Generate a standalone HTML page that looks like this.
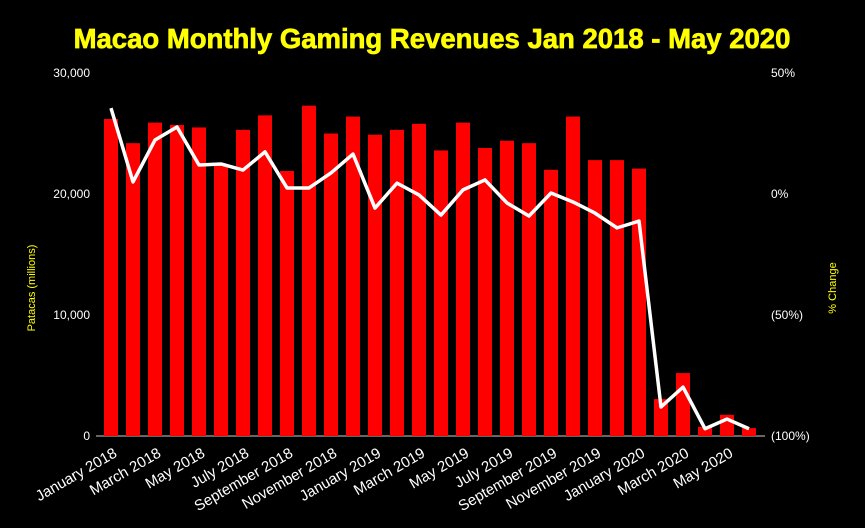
<!DOCTYPE html>
<html><head><meta charset="utf-8"><style>
body{margin:0;background:#000;}
svg{display:block;font-family:"Liberation Sans",Arial,sans-serif;}
</style></head><body>
<svg id="chart" width="865" height="528">
<rect width="865" height="528" fill="#000"/>
<text x="432" y="48" text-anchor="middle" fill="#ffff00" font-weight="bold" font-size="27.5" stroke="#ffff00" stroke-width="0.7">Macao Monthly Gaming Revenues Jan 2018 - May 2020</text>
<text transform="translate(35,288) rotate(-90)" text-anchor="middle" fill="#ffff00" font-size="11">Patacas (millions)</text>
<text transform="translate(836,288) rotate(-90)" text-anchor="middle" fill="#ffff00" font-size="11">% Change</text>
<g id="axes"></g><g id="bars"></g><g id="line"></g><g id="xlabels"></g>
</svg>
<script>
const months=["January 2018","February 2018","March 2018","April 2018","May 2018","June 2018","July 2018","August 2018","September 2018","October 2018","November 2018","December 2018","January 2019","February 2019","March 2019","April 2019","May 2019","June 2019","July 2019","August 2019","September 2019","October 2019","November 2019","December 2019","January 2020","February 2020","March 2020","April 2020","May 2020","June 2020"];
const revenue=[26.2,24.2,25.9,25.7,25.5,22.4,25.3,26.5,21.9,27.3,25.0,26.4,24.9,25.3,25.8,23.6,25.9,23.8,24.4,24.2,22.0,26.4,22.8,22.8,22.1,3.05,5.2,0.75,1.75,0.65];
const pctChange=[35.5,5,22.3,27.7,12,12.4,9.9,17.4,2.5,2.5,8.7,16.5,-5.8,4.5,-0.4,-8.7,1.7,5.8,-3.7,-9.1,0.4,-3.3,-7.9,-14,-11.2,-88,-79.8,-97,-93,-97];
const leftTicks=[0,10000,20000,30000];
const leftTickLabels=["0","10,000","20,000","30,000"];
const rightTicks=[50,0,-50,-100];
const rightTickLabels=["50%","0%","(50%)","(100%)"];

const NS="http://www.w3.org/2000/svg";
const x0=100,band=22,yTop=73,yBot=436;
const x1=x0+band*months.length;
const xc=i=>x0+band*(i+0.5);
const yL=v=>yBot-(v/30000)*(yBot-yTop);
const yR=p=>yBot-((p+100)/150)*(yBot-yTop);
function mk(tag,attrs,parent){const e=document.createElementNS(NS,tag);for(const k in attrs)e.setAttribute(k,attrs[k]);document.getElementById(parent).appendChild(e);return e;}

leftTicks.forEach((t,i)=>{
  const e=mk("text",{x:90,y:yL(t)+4,"text-anchor":"end",fill:"#fff","font-size":12},"axes");
  e.textContent=leftTickLabels[i];
  
  
});
rightTicks.forEach((t,i)=>{
  const e=mk("text",{x:771,y:yR(t)+4,"text-anchor":"start",fill:"#fff","font-size":12},"axes");
  e.textContent=rightTickLabels[i];
  
  
});
revenue.forEach((v,i)=>{
  const b=mk("rect",{x:xc(i)-7,y:yL(v*1000),width:14,height:yBot-yL(v*1000),fill:"#ff0000"},"bars");
  
  
});
const base=mk("line",{x1:96,x2:x1+5,y1:yBot,y2:yBot,stroke:"#ccc","stroke-width":1},"axes");


const pl=mk("polyline",{points:pctChange.map((p,i)=>xc(i)+","+yR(p)).join(" "),fill:"none",stroke:"#fff","stroke-width":3.5,"stroke-linejoin":"round"},"line");


months.forEach((m,i)=>{
  if(i%2)return;
  const t=mk("text",{transform:`translate(${xc(i)+7},${yBot+20}) rotate(-30)`,"text-anchor":"end",fill:"#fff","font-size":15},"xlabels");
  t.textContent=m;
  
  
});
</script>
</body></html>
